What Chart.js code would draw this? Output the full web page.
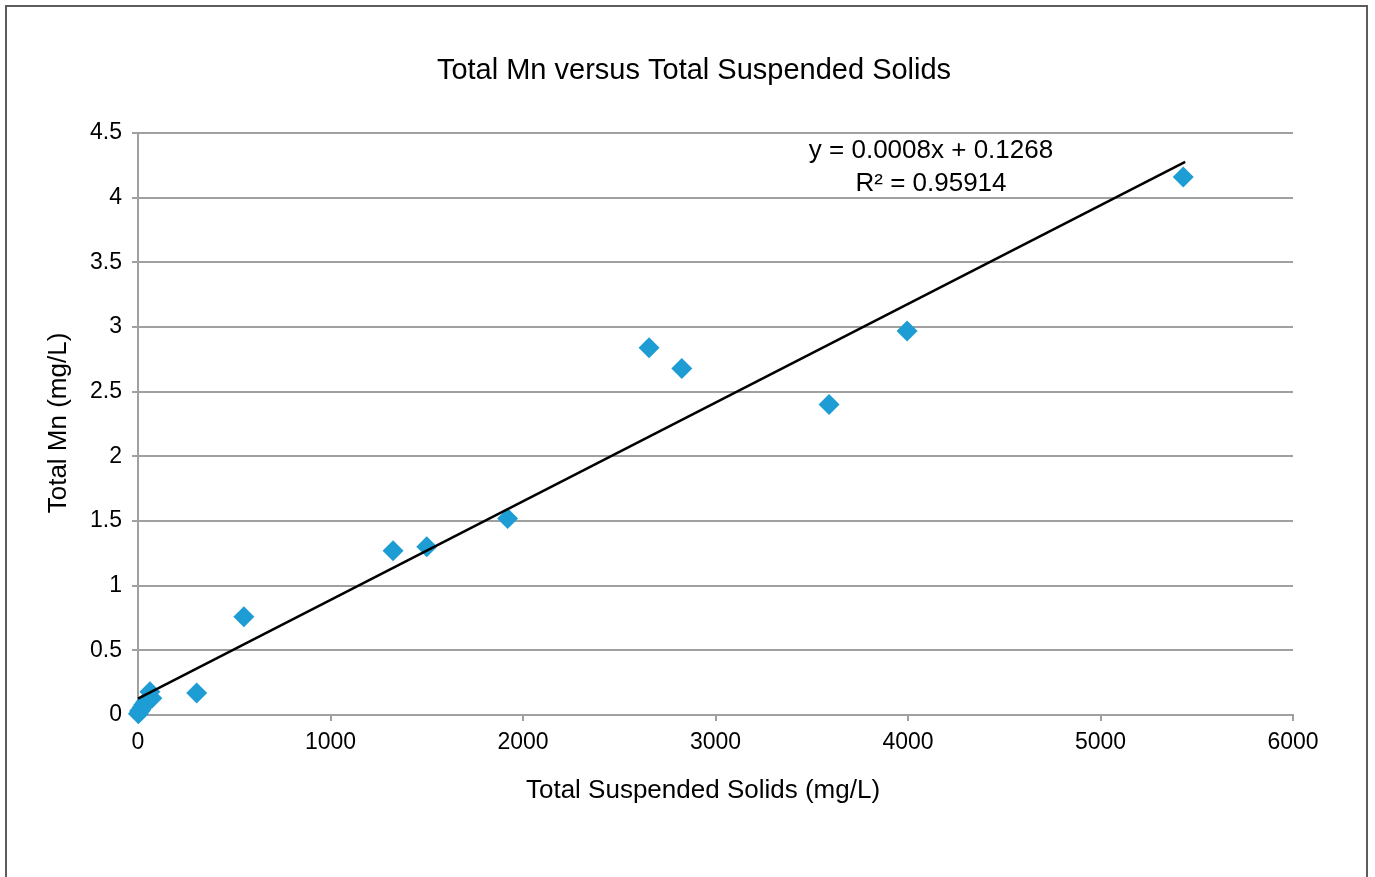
<!DOCTYPE html>
<html>
<head>
<meta charset="utf-8">
<title>Total Mn versus Total Suspended Solids</title>
<script src="https://cdn.jsdelivr.net/npm/chart.js@4/dist/chart.umd.min.js"></script>
<style>
  html, body { margin: 0; padding: 0; background: #fff; overflow: hidden; }
  #wrap { position: relative; width: 1375px; height: 877px; }
  #frame {
    position: absolute; left: 5px; top: 5px; width: 1359px; height: 920px;
    border: 2px solid #5c5c5c; pointer-events: none;
  }
  canvas { position: absolute; left: 0; top: 0; }
</style>
</head>
<body>
<div id="wrap">
  <canvas id="chart" width="1375" height="877"></canvas>
  <div id="frame"></div>
</div>
<script>
// Total suspended solids (mg/L) for each sample
const tss = [2, 8, 15, 22, 30, 40, 50, 62, 72, 305, 550, 1325, 1500, 1920, 2655, 2825, 3590, 3995, 5430];
// Total manganese (mg/L) for the same samples
const mn = [0.01, 0.03, 0.04, 0.06, 0.08, 0.10, 0.12, 0.18, 0.13, 0.17, 0.76, 1.27, 1.30, 1.52, 2.84, 2.68, 2.40, 2.97, 4.16];

// Linear trend line fitted to the samples
const trendSlope = 0.000763;
const trendIntercept = 0.1268;
const trendR2 = 0.95914;
const trendXMax = 5440;

// Axis tick values
const yTicks = [0, 0.5, 1, 1.5, 2, 2.5, 3, 3.5, 4, 4.5];
const xTicks = [0, 1000, 2000, 3000, 4000, 5000, 6000];

const chartTitle = 'Total Mn versus Total Suspended Solids';
const xTitle = 'Total Suspended Solids (mg/L)';
const yTitle = 'Total Mn (mg/L)';

const FONT = '"Liberation Sans", Arial, Helvetica, sans-serif';
const points = tss.map((x, i) => ({ x: x, y: mn[i] }));
const trend = [0, trendXMax].map(x => ({ x: x, y: trendSlope * x + trendIntercept }));

// Chart title, axis titles and the trend line equation with R²
const textLayer = {
  id: 'textLayer',
  afterDatasetsDraw(chart) {
    const ctx = chart.ctx;
    ctx.save();
    ctx.fillStyle = '#000';
    ctx.textAlign = 'center';
    ctx.textBaseline = 'middle';

    ctx.font = '29px ' + FONT;
    ctx.fillText(chartTitle, 694, 71);

    ctx.font = '26px ' + FONT;
    ctx.fillText('y = ' + trendSlope.toFixed(4) + 'x + ' + trendIntercept.toFixed(4), 931, 151);
    ctx.fillText('R² = ' + trendR2.toFixed(5), 931, 184);

    ctx.font = '26px ' + FONT;
    ctx.fillText(xTitle, 703, 791);

    ctx.translate(59, 423);
    ctx.rotate(-Math.PI / 2);
    ctx.fillText(yTitle, 0, 0);
    ctx.restore();
  }
};

const plainTick = v => String(v);

new Chart(document.getElementById('chart'), {
  type: 'scatter',
  data: {
    datasets: [
      {
        type: 'line',
        label: 'Linear trend',
        data: trend,
        borderColor: '#000',
        borderWidth: 2.5,
        pointRadius: 0,
        fill: false,
        clip: false,
        order: 0
      },
      {
        label: 'Total Mn',
        data: points,
        pointStyle: 'rectRot',
        pointRadius: 10.5,
        backgroundColor: 'rgb(30,157,213)',
        borderWidth: 0,
        clip: false,
        order: 1
      }
    ]
  },
  plugins: [textLayer],
  options: {
    responsive: false,
    animation: false,
    devicePixelRatio: 1,
    layout: { padding: { left: 0, right: 82, top: 133, bottom: 0 } },
    plugins: {
      legend: { display: false },
      tooltip: { enabled: false },
      title: { display: false }
    },
    scales: {
      x: {
        type: 'linear',
        min: 0, max: 6000,
        afterBuildTicks(scale) { scale.ticks = xTicks.map(v => ({ value: v })); },
        afterFit(scale) { scale.height = 162; },
        grid: { drawOnChartArea: false, drawTicks: true, tickLength: 6, color: '#a0a0a0', lineWidth: 2 },
        border: { color: '#a0a0a0', width: 2 },
        ticks: { color: '#000', font: { family: FONT, size: 23 }, padding: 8, maxRotation: 0, callback: plainTick },
        title: { display: false }
      },
      y: {
        type: 'linear',
        min: 0, max: 4.5,
        afterBuildTicks(scale) { scale.ticks = yTicks.map(v => ({ value: v })); },
        afterFit(scale) { scale.width = 138; },
        grid: { drawOnChartArea: true, drawTicks: true, tickLength: 6, color: '#a0a0a0', lineWidth: 2 },
        border: { color: '#a0a0a0', width: 2 },
        ticks: { color: '#000', font: { family: FONT, size: 23 }, padding: 10, callback: plainTick },
        title: { display: false }
      }
    }
  }
});
</script>
</body>
</html>
